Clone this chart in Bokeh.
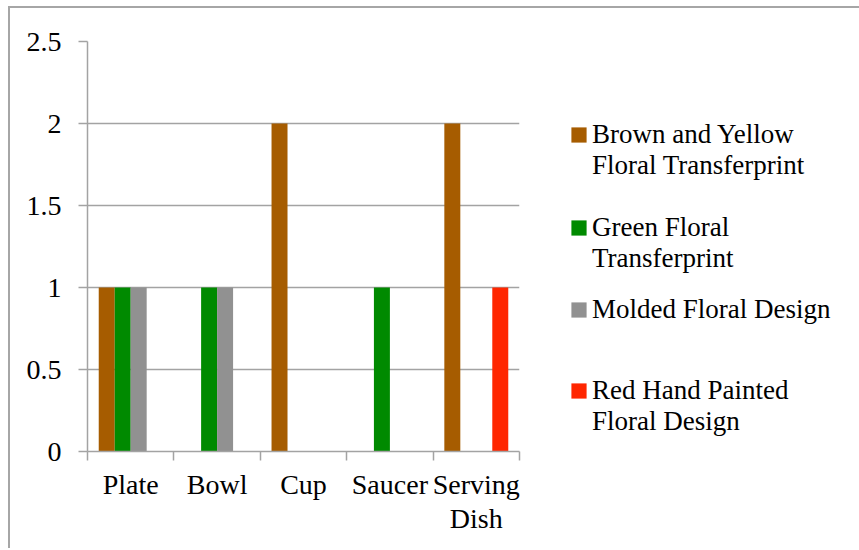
from bokeh.plotting import figure
from bokeh.models import Range1d, FixedTicker, Legend, LegendItem, ColumnDataSource
from bokeh.transform import dodge
from bokeh.embed import file_html
from bokeh.resources import INLINE

categories = ["Plate", "Bowl", "Cup", "Saucer", "Serving Dish"]
category_labels = ["Plate", "Bowl", "Cup", "Saucer", "Serving\nDish"]
series_names = [
    "Brown and Yellow\nFloral Transferprint",
    "Green Floral\nTransferprint",
    "Molded Floral Design",
    "Red Hand Painted\nFloral Design",
]
brown_yellow = [1, 0, 2, 0, 2]
green = [1, 1, 0, 1, 0]
molded = [1, 1, 0, 0, 0]
red_painted = [0, 0, 0, 0, 1]
y_ticks = [0.0, 0.5, 1.0, 1.5, 2.0, 2.5]
y_tick_labels = ["0", "0.5", "1", "1.5", "2", "2.5"]

colors = ["#A65C00", "#008A00", "#919191", "#FF2600"]
FONT = "Liberation Serif"
FS = "28px"
LFS = "27px"
GRID = "#a3a3a3"

centers = [i + 0.5 for i in range(len(categories))]
src = ColumnDataSource(dict(x=centers, b=brown_yellow, g=green, m=molded, r=red_painted))

p = figure(
    frame_width=432, frame_height=410,
    min_border_left=79, min_border_right=340, min_border_top=35, min_border_bottom=97,
    x_range=Range1d(0, len(categories)), y_range=Range1d(0, 2.5),
    output_backend="svg", toolbar_location=None,
)
p.outline_line_color = None
p.border_fill_alpha = 0
p.styles = {"margin-left": "8px", "margin-top": "6px",
            "box-shadow": "inset 2px 2px 0 0 #a6a6a6"}

w = 0.185
offsets = [-1.5 * w, -0.5 * w, 0.5 * w, 1.5 * w]
renderers = []
for col, off, c in zip(["b", "g", "m", "r"], offsets, colors):
    r = p.vbar(x=dodge("x", off), top=col, width=w, source=src,
               fill_color=c, line_color=None)
    renderers.append(r)

# Axes
p.xaxis.ticker = FixedTicker(ticks=centers, minor_ticks=[float(i) for i in range(len(categories) + 1)])
p.xaxis.major_label_overrides = {c: lab for c, lab in zip(centers, category_labels)}
p.xaxis.major_tick_out = 0
p.xaxis.major_tick_in = 0
p.xaxis.minor_tick_out = 9
p.xaxis.minor_tick_in = 0
p.xaxis.major_label_standoff = 8
p.xaxis.major_label_text_line_height = 1.1

p.yaxis.ticker = FixedTicker(ticks=y_ticks)
p.yaxis.major_label_overrides = {t: lab for t, lab in zip(y_ticks, y_tick_labels)}
p.yaxis.major_tick_out = 9
p.yaxis.major_tick_in = 0
p.yaxis.minor_tick_out = 0
p.yaxis.minor_tick_in = 0
p.yaxis.major_label_standoff = 17

for ax in (p.xaxis, p.yaxis):
    ax.axis_line_color = GRID
    ax.axis_line_width = 1.5
    ax.major_tick_line_color = GRID
    ax.major_tick_line_width = 1.5
    ax.minor_tick_line_color = GRID
    ax.minor_tick_line_width = 1.5
    ax.major_label_text_font = FONT
    ax.major_label_text_font_size = FS
    ax.major_label_text_color = "#000000"

p.xgrid.grid_line_color = None
p.ygrid.grid_line_color = GRID
p.ygrid.grid_line_width = 1.5

# a leading blank line keeps each swatch level with the first line of a two-line label
legend = Legend(
    items=[LegendItem(label=("\n" + n) if "\n" in n else n, renderers=[r])
           for n, r in zip(series_names, renderers)],
    location=(50, 14),
    padding=0, margin=0, spacing=0,
    glyph_width=19, glyph_height=19, label_standoff=4,
    label_height=70,
    label_text_font=FONT, label_text_font_size=LFS, label_text_color="#000000",
    label_text_line_height=1.15,
    border_line_color=None, background_fill_alpha=0,
)
p.add_layout(legend, "right")

open("out.html", "w").write(file_html(p, INLINE))
